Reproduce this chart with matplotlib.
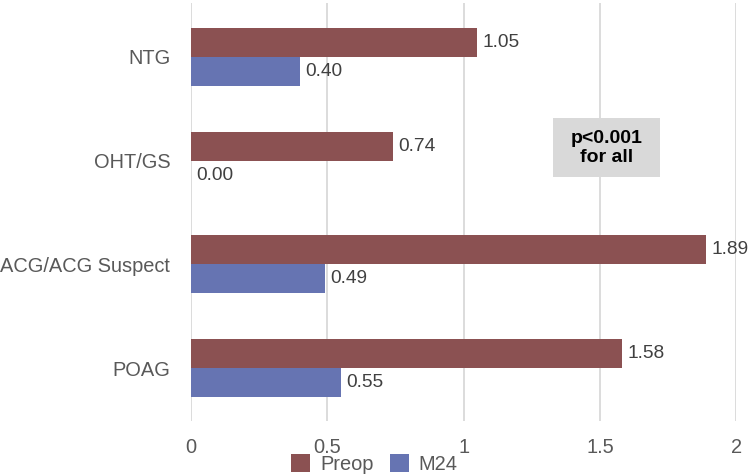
import numpy as np
import matplotlib.pyplot as plt
from matplotlib.patches import Rectangle

plt.rcParams['font.family'] = ['Liberation Sans', 'DejaVu Sans']

# data
categories = ['NTG', 'OHT/GS', 'ACG/ACG Suspect', 'POAG']
preop = [1.05, 0.74, 1.89, 1.58]
m24 = [0.40, 0.00, 0.49, 0.55]
series_names = ['Preop', 'M24']
x_ticks = [0, 0.5, 1, 1.5, 2]
x_tick_labels = ['0', '0.5', '1', '1.5', '2']

c_preop = '#8B5152'
c_m24 = '#6674B2'
grid_c = '#D9D9D9'
txt_c = '#595959'

fig = plt.figure(figsize=(7.49, 4.75), dpi=100)
ax = fig.add_axes([0.255, 0.1137, 0.728, 0.880])

# top category first
y = np.arange(len(categories))[::-1]
h = 0.28
ax.barh(y + h / 2, preop, height=h, color=c_preop, label=series_names[0], zorder=3)
ax.barh(y - h / 2, m24, height=h, color=c_m24, label=series_names[1], zorder=3)

# value labels
for yy, v in zip(y, preop):
    ax.annotate(f'{v:.2f}', (v, yy + h / 2), xytext=(4, 0), textcoords='offset points',
                va='center', ha='left', fontsize=13.8, color='#404040')
for yy, v in zip(y, m24):
    ax.annotate(f'{v:.2f}', (v, yy - h / 2), xytext=(4, 0), textcoords='offset points',
                va='center', ha='left', fontsize=13.8, color='#404040')

ax.set_xlim(0, 2)
ax.set_ylim(-0.51, 3.52)
ax.set_xticks(x_ticks)
ax.set_xticklabels(x_tick_labels)
ax.set_yticks(y)
ax.set_yticklabels(categories)
ax.tick_params(axis='both', length=0, labelsize=14.4, labelcolor=txt_c)
ax.tick_params(axis='y', pad=15)
ax.tick_params(axis='x', pad=12)
ax.grid(axis='x', color=grid_c, linewidth=1.3, zorder=0)
for s in ax.spines.values():
    s.set_visible(False)

# p-value box
ax.add_patch(Rectangle((1.328, 1.84), 0.393, 0.57, facecolor='#D9D9D9',
                       edgecolor='none', zorder=4))
ax.text(1.5245, 2.125, 'p<0.001\nfor all', ha='center', va='center', fontsize=14,
        fontweight='bold', color='black', zorder=5, linespacing=1.15)

fig.legend(loc='center', bbox_to_anchor=(0.5, 0.023), ncol=2, frameon=False,
           fontsize=14.4, labelcolor=txt_c, handlelength=0.95, handleheight=0.95,
           handletextpad=0.5, columnspacing=0.8, borderpad=0)

fig.savefig('out.png', dpi=100)
